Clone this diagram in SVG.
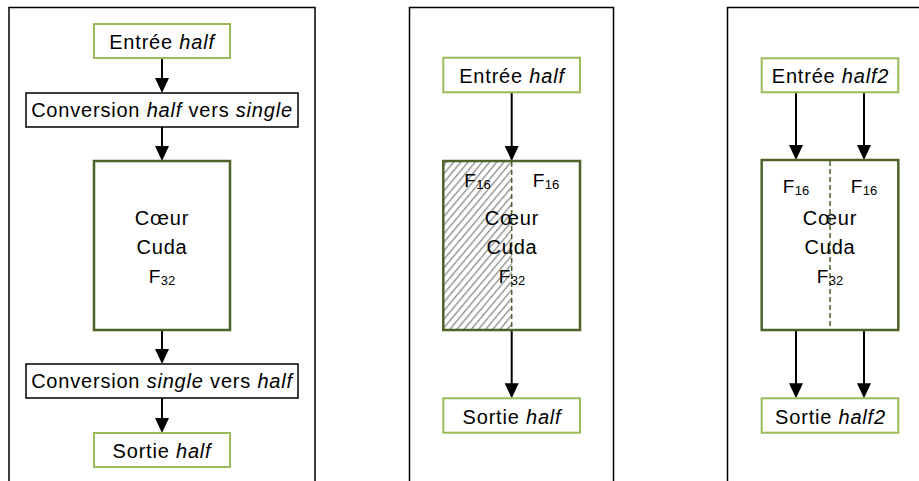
<svg xmlns="http://www.w3.org/2000/svg" width="919" height="481" viewBox="0 0 919 481">
<defs>
<style>
text{font-family:"Liberation Sans",Arial,sans-serif;font-size:20px;letter-spacing:0.8px;fill:#000;text-anchor:middle}
.it{font-style:italic}
.sm{font-size:19px;letter-spacing:0.3px}
.sub{font-size:13px;letter-spacing:0}
.frame{fill:none;stroke:#000;stroke-width:1.5}
.io{fill:#fff;stroke:#9bbb59;stroke-width:2}
.conv{fill:#fff;stroke:#000;stroke-width:1.5}
.core{fill:#fff;stroke:#4f6228;stroke-width:2.5}
.coreline{fill:none;stroke:#4f6228;stroke-width:2.5}
.dash{stroke:#4f6228;stroke-width:1.5;stroke-dasharray:5 3;fill:none}
.arr{stroke:#000;stroke-width:2;fill:none;marker-end:url(#ah)}
</style>
<marker id="ah" markerUnits="userSpaceOnUse" markerWidth="15" markerHeight="15" refX="13" refY="7" orient="auto">
<path d="M0,0 L15,7 L0,14 z" fill="#000"/>
</marker>
<pattern id="hatch" patternUnits="userSpaceOnUse" width="5.5" height="5.5" patternTransform="rotate(40)">
<line x1="0.7" y1="0" x2="0.7" y2="5.5" stroke="#8a8a8a" stroke-width="1.3"/>
</pattern>
</defs>

<g id="frames">
<rect class="frame" x="9" y="7.5" width="306" height="490"/>
<rect class="frame" x="409.5" y="7.5" width="204" height="490"/>
<rect class="frame" x="727.5" y="7.5" width="220" height="490"/>
</g>

<g id="connectors">
<line class="arr" x1="162" y1="58" x2="162" y2="91"/>
<line class="arr" x1="162" y1="127" x2="162" y2="159"/>
<line class="arr" x1="162" y1="330" x2="162" y2="362"/>
<line class="arr" x1="162" y1="398" x2="162" y2="431"/>
<line class="arr" x1="511.7" y1="92.3" x2="511.7" y2="159"/>
<line class="arr" x1="511.7" y1="330" x2="511.7" y2="396.3"/>
<line class="arr" x1="796" y1="92.3" x2="796" y2="158"/>
<line class="arr" x1="864" y1="92.3" x2="864" y2="158"/>
<line class="arr" x1="796" y1="330" x2="796" y2="396.3"/>
<line class="arr" x1="864" y1="330" x2="864" y2="396.3"/>
</g>

<g id="left-in">
<rect class="io" x="94" y="24" width="136" height="34"/>
<text x="162" y="49">Entrée <tspan class="it">half</tspan></text>
</g>
<g id="left-conv1">
<rect class="conv" x="26" y="93" width="272" height="34"/>
<text x="162" y="117">Conversion <tspan class="it">half</tspan> vers <tspan class="it">single</tspan></text>
</g>
<g id="left-core">
<rect class="core" x="94" y="161" width="136" height="169"/>
<text x="162" y="225">Cœur</text>
<text x="162" y="254">Cuda</text>
<text x="162" y="283" class="sm">F<tspan class="sub" dy="2">32</tspan></text>
</g>
<g id="left-conv2">
<rect class="conv" x="26" y="364" width="272" height="34"/>
<text x="162" y="388">Conversion <tspan class="it">single</tspan> vers <tspan class="it">half</tspan></text>
</g>
<g id="left-out">
<rect class="io" x="94" y="433" width="136" height="34"/>
<text x="162" y="458">Sortie <tspan class="it">half</tspan></text>
</g>

<g id="mid-in">
<rect class="io" x="443.3" y="57.7" width="136.7" height="34.6"/>
<text x="512" y="83">Entrée <tspan class="it">half</tspan></text>
</g>
<g id="mid-core">
<rect x="443.3" y="161" width="136.7" height="169" fill="#fff"/>
<rect x="443.3" y="161" width="68.4" height="169" fill="url(#hatch)"/>
<rect class="coreline" x="443.3" y="161" width="136.7" height="169"/>
<line class="dash" x1="511.7" y1="162" x2="511.7" y2="329"/>
<text x="477.5" y="187" class="sm">F<tspan class="sub" dy="2">16</tspan></text>
<text x="546" y="187" class="sm">F<tspan class="sub" dy="2">16</tspan></text>
<text x="512" y="225">Cœur</text>
<text x="512" y="254">Cuda</text>
<text x="512" y="283" class="sm">F<tspan class="sub" dy="2">32</tspan></text>
</g>
<g id="mid-out">
<rect class="io" x="443.3" y="398.3" width="136.7" height="34.4"/>
<text x="512" y="423.5">Sortie <tspan class="it">half</tspan></text>
</g>

<g id="right-in">
<rect class="io" x="761.7" y="58.3" width="136.6" height="34"/>
<text x="830.5" y="83">Entrée <tspan class="it">half2</tspan></text>
</g>
<g id="right-core">
<rect class="core" x="761.7" y="160" width="136.6" height="170"/>
<line class="dash" x1="830" y1="161" x2="830" y2="329"/>
<text x="796" y="193" class="sm">F<tspan class="sub" dy="2">16</tspan></text>
<text x="864" y="193" class="sm">F<tspan class="sub" dy="2">16</tspan></text>
<text x="830" y="225">Cœur</text>
<text x="830" y="254">Cuda</text>
<text x="830" y="283" class="sm">F<tspan class="sub" dy="2">32</tspan></text>
</g>
<g id="right-out">
<rect class="io" x="761.7" y="398.3" width="136.6" height="34.4"/>
<text x="830.5" y="423.5">Sortie <tspan class="it">half2</tspan></text>
</g>
</svg>
